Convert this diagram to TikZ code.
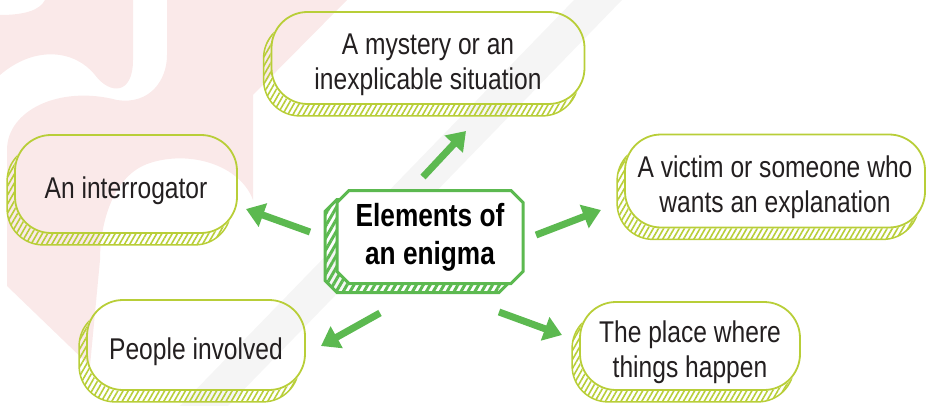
\documentclass[tikz,border=0pt]{standalone}
\usepackage{fontspec}
\setmainfont{Liberation Sans}[FakeStretch=0.82]
\usetikzlibrary{arrows.meta,patterns.meta,shapes.misc,shadows}

\definecolor{limeline}{RGB}{184,206,56}
\definecolor{leafgreen}{RGB}{92,185,80}
\definecolor{inkgrey}{RGB}{35,31,32}
\definecolor{blushpink}{RGB}{250,233,233}
\definecolor{bandgrey}{RGB}{245,245,245}

\tikzset{
  idea/.style={draw=limeline, line width=1.8pt, rounded corners=36pt,
    align=center, text=inkgrey, inner sep=0pt, text height=70pt,
    font=\fontsize{30}{35}\selectfont},
  oneline/.style={text height=36pt},
  ideaband/.style={draw=limeline, line width=1.5pt, rounded corners=36pt,
    pattern={Lines[angle=60,distance=4.5pt,line width=1.6pt]}, pattern color=limeline},
  hub/.style={chamfered rectangle, chamfered rectangle sep=6pt,
    draw=leafgreen, line width=3pt, fill=white, align=center, inner sep=0pt,
    minimum width=186pt, minimum height=93pt, text height=62pt,
    font=\bfseries\fontsize{32}{38}\selectfont,
    general shadow={shadow xshift=-12pt, shadow yshift=-9pt, draw=leafgreen,
      line width=3pt, pattern={Lines[angle=60,distance=6pt,line width=3pt]},
      pattern color=leafgreen}},
  pointer/.style={draw=leafgreen, line width=7pt, -{Triangle[length=18pt,width=24pt]}},
}

\begin{document}
\begin{tikzpicture}[x=1pt, y=-1pt]
  \useasboundingbox (0,0) rectangle (928,406);

  % Background ribbon and band
  \fill[blushpink] (45,0) -- (133,0) -- (133,60)
    .. controls (133,95) and (110,95) .. (95,75)
    .. controls (75,50) and (35,45) .. (0,75) -- (0,15)
    .. controls (25,15) and (40,10) .. (45,0) -- cycle;
  \fill[blushpink] (167,0) -- (347,0) -- (253,95) -- (253,200)
    .. controls (240,165) and (190,150) .. (150,163)
    .. controls (112,175) and (100,225) .. (100,260)
    -- (90,366) -- (7,286) -- (7,150)
    .. controls (7,110) and (60,85) .. (117,100)
    .. controls (150,105) and (167,80) .. (167,55) -- cycle;
  \fill[bandgrey] (574,0) -- (622,0) -- (228,406) -- (180,406) -- cycle;

  % Boxes
  \node[idea, minimum width=313pt, minimum height=92pt] (mystery) at (428,58)
    {A mystery or an\\inexplicable situation};
  \node[idea, oneline, minimum width=222pt, minimum height=98pt] (interrogator) at (126,184)
    {An interrogator};
  \node[idea, minimum width=300pt, minimum height=93pt] (victim) at (775,181)
    {A victim or someone who\\wants an explanation};
  \node[idea, oneline, minimum width=218pt, minimum height=90pt] (people) at (196,345)
    {People involved};
  \node[idea, minimum width=220pt, minimum height=88pt] (place) at (690,346)
    {The place where\\things happen};

  % Hatched edges
  \foreach \n in {mystery,interrogator,victim,people,place}{
    \begin{scope}[even odd rule]
      \clip (-20,-20) rectangle (950,430)
        [rounded corners=36pt] (\n.south west) rectangle (\n.north east);
      \draw[ideaband] ([shift={(-7pt,-11pt)}]\n.south west)
        rectangle ([shift={(-7pt,-11pt)}]\n.north east);
    \end{scope}
  }

  % Centre
  \node[hub] (elements) at (430,237) {Elements of\\an enigma};

  % Arrows
  \coordinate (upTail) at (423,177);   \coordinate (upTip) at (466,131);
  \coordinate (leftTail) at (310,232); \coordinate (leftTip) at (246,209);
  \coordinate (rightTail) at (536,235);\coordinate (rightTip) at (601,210);
  \coordinate (dlTail) at (380,313);   \coordinate (dlTip) at (321,346);
  \coordinate (drTail) at (499,312);   \coordinate (drTip) at (562,335);
  \draw[pointer] (upTail) -- (upTip);
  \draw[pointer] (leftTail) -- (leftTip);
  \draw[pointer] (rightTail) -- (rightTip);
  \draw[pointer] (dlTail) -- (dlTip);
  \draw[pointer] (drTail) -- (drTip);
\end{tikzpicture}
\end{document}
